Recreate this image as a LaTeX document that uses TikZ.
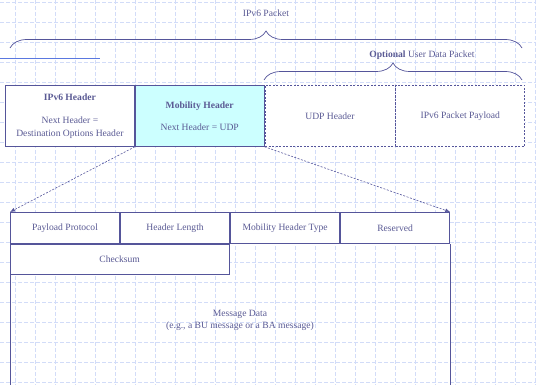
\documentclass[tikz,border=0pt]{standalone}
\usepackage{fontspec}
\setmainfont{Liberation Serif}
\usetikzlibrary{decorations.pathreplacing}
\usetikzlibrary{arrows.meta}
\definecolor{hdrline}{HTML}{55559A}
\definecolor{hdrtext}{HTML}{5A5A94}
\definecolor{gridblue}{HTML}{D2DCF8}
\definecolor{mhfill}{HTML}{CCFFFF}
\definecolor{titleline}{HTML}{5A78E0}

\begin{document}
\begin{tikzpicture}[x=1pt,y=-1pt]
\tikzset{every node/.style={font=\fontsize{9.6}{13}\selectfont, text=hdrtext}}
\tikzset{cell/.style={draw=hdrline, line width=0.8pt, fill=white, align=center, inner sep=0pt}}
\tikzset{toprow/.style={cell, minimum width=129pt, minimum height=61pt}}
\tikzset{optcell/.style={toprow, dash pattern=on 2pt off 1.5pt}}
\tikzset{field/.style={cell, minimum width=109.25pt, minimum height=31pt}}
\tikzset{gridline/.style={draw=gridblue, line width=0.8pt, dash pattern=on 4pt off 2pt}}
\tikzset{bracket/.style={draw=hdrline, line width=0.7pt, decorate, decoration={brace, amplitude=17pt}}}
\tikzset{zoomline/.style={draw=hdrline, line width=0.6pt, dash pattern=on 2pt off 1.5pt, -{Latex[length=5pt,width=4pt]}}}
\useasboundingbox (0,0) rectangle (536,385);
\clip (0,0) rectangle (536,385);
% background grid
\foreach \x in {15,35,...,535} \draw[gridline] (\x,0) -- (\x,385);
\foreach \y in {2,22,...,382} \draw[gridline] (0,\y) -- (536,\y);
\draw[titleline, line width=0.8pt] (0,58) -- (100,58);
% packet
\node (pkt) at (266,13) {IPv6 Packet};
\draw[bracket] (10,48) -- (522,48);
\node (opt) at (422,55) {\textbf{Optional} User Data Packet};
\draw[bracket] (264,80) -- (522,80);
\node[toprow, anchor=north west] (ipv6) at (5,85) {\textbf{IPv6 Header}\\[10pt]Next Header =\\Destination Options Header};
\node[toprow, anchor=west, fill=mhfill] (mh) at (ipv6.east) {\textbf{Mobility Header}\\[9pt]Next Header = UDP};
\node[optcell, anchor=west, minimum width=130pt] (udp) at (mh.east) {UDP Header};
\node[optcell, anchor=west] (pay) at (udp.east) {IPv6 Packet Payload};
% mobility header fields
\node[field, anchor=north west] (pp) at (10,212) {Payload Protocol};
\node[field, anchor=west] (hl) at (pp.east) {Header Length};
\node[field, anchor=west] (mht) at (hl.east) {Mobility Header Type};
\node[field, anchor=west] (res) at (mht.east) {Reserved};
\node[cell, anchor=north west, minimum width=218.5pt, minimum height=30pt] (chk) at (pp.south west) {Checksum};
\draw[hdrline, line width=0.8pt] (chk.south west) -- ++(0,120);
\draw[hdrline, line width=1pt] (res.south east) -- ++(0,150);
\node[align=center] (msg) at (240,320) {Message Data\\[-1pt](e.g., a BU message or a BA message)};
\draw[zoomline] (ipv6.south east) -- (pp.north west);
\draw[zoomline] (mh.south east) -- (res.north east);
\end{tikzpicture}
\end{document}
